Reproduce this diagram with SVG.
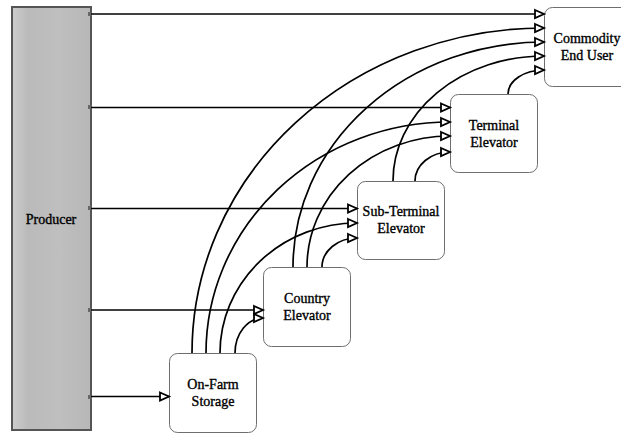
<svg xmlns="http://www.w3.org/2000/svg" width="621" height="434" viewBox="0 0 621 434">
  <defs>
    <linearGradient id="barFill" x1="0" y1="0" x2="1" y2="0">
      <stop offset="0" stop-color="#cdcdcd"/>
      <stop offset="0.2" stop-color="#bababa"/>
      <stop offset="0.6" stop-color="#bfbfbf"/>
      <stop offset="1" stop-color="#b7b7b7"/>
    </linearGradient>
    <marker id="openArrow" markerUnits="userSpaceOnUse" markerWidth="14" markerHeight="14" viewBox="-2 -2 14 12" refX="9" refY="4" orient="auto">
      <path d="M0,0 L9,4 L0,8 Z" fill="#fff" stroke="#000" stroke-width="1.8" stroke-linejoin="miter"/>
    </marker>
  </defs>
  <style>
    .box { fill: #fff; stroke: #6e6e6e; stroke-width: 1; }
    .bar { fill: url(#barFill); stroke: #555; stroke-width: 2; }
    .label { font-family: "Liberation Serif", "Times New Roman", serif; font-size: 14px; fill: #000; stroke: #000; stroke-width: 0.35; text-anchor: middle; }
    .flow { fill: none; stroke: #000; stroke-width: 1.7; marker-end: url(#openArrow); }
    .tap { fill: #666; }
  </style>

  <rect width="621" height="434" fill="#fff"/>

  <!-- Nodes -->
  <g id="producer">
    <rect class="bar" x="12" y="7" width="79" height="423"/>
    <text class="label" x="51" y="224">Producer</text>
  </g>

  <g id="commodity-end-user">
    <rect class="box" x="544.5" y="7.5" width="87" height="79" rx="8"/>
    <text class="label" x="587" y="43">Commodity</text>
    <text class="label" x="587" y="60">End User</text>
  </g>

  <g id="terminal-elevator">
    <rect class="box" x="450.5" y="94.5" width="87" height="78" rx="8"/>
    <text class="label" x="494" y="130">Terminal</text>
    <text class="label" x="494" y="147">Elevator</text>
  </g>

  <g id="sub-terminal-elevator">
    <rect class="box" x="357.5" y="181.5" width="87" height="78" rx="8"/>
    <text class="label" x="401" y="216">Sub-Terminal</text>
    <text class="label" x="401" y="233">Elevator</text>
  </g>

  <g id="country-elevator">
    <rect class="box" x="263.5" y="267.5" width="87" height="79" rx="8"/>
    <text class="label" x="307" y="303">Country</text>
    <text class="label" x="307" y="320">Elevator</text>
  </g>

  <g id="on-farm-storage">
    <rect class="box" x="169.5" y="353.5" width="87" height="79" rx="8"/>
    <text class="label" x="213" y="389">On-Farm</text>
    <text class="label" x="213" y="406">Storage</text>
  </g>

  <!-- Connectors -->
  <g id="connectors">
    <!-- straight feeds from the producer -->
    <rect class="tap" x="88" y="12" width="4" height="4"/>
    <rect class="tap" x="88" y="105" width="4" height="4"/>
    <rect class="tap" x="88" y="206" width="4" height="4"/>
    <rect class="tap" x="88" y="308" width="4" height="4"/>
    <rect class="tap" x="88" y="395" width="4" height="4"/>
    <path class="flow" d="M91,14 H544"/>
    <path class="flow" d="M91,107.5 H450"/>
    <path class="flow" d="M91,208.5 H357"/>
    <path class="flow" d="M91,310 H263"/>
    <path class="flow" d="M91,396.5 H169"/>

    <!-- on-farm storage onward -->
    <path class="flow" d="M192,353 A352,325 0 0 1 544,28"/>
    <path class="flow" d="M206,353 A244,231 0 0 1 450,122"/>
    <path class="flow" d="M220,353 A137,130 0 0 1 357,223"/>
    <path class="flow" d="M235,353 A28,35 0 0 1 263,318"/>

    <!-- country elevator onward -->
    <path class="flow" d="M293,267 A251,225 0 0 1 544,42"/>
    <path class="flow" d="M307,267 A143,131 0 0 1 450,136"/>
    <path class="flow" d="M322,267 A35,29 0 0 1 357,238"/>

    <!-- sub-terminal elevator onward -->
    <path class="flow" d="M393,181 A151,125 0 0 1 544,56"/>
    <path class="flow" d="M415,181 A35,29 0 0 1 450,152"/>

    <!-- terminal elevator onward -->
    <path class="flow" d="M508,94 A36,24 0 0 1 544,70"/>
  </g>
</svg>
